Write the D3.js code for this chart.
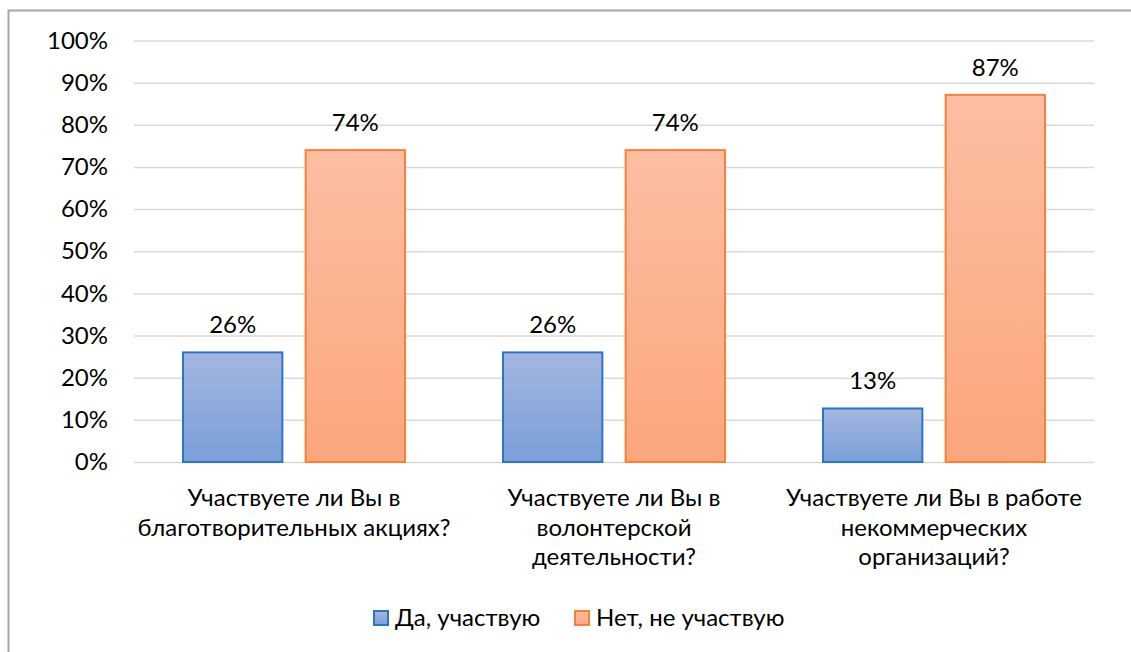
<!DOCTYPE html>
<html>
<head>
<meta charset="utf-8">
<script src="https://cdn.jsdelivr.net/npm/d3@7"></script>
<style>
  body { margin: 0; background: #fff; }
  svg { display: block; font-family: Lato, "Open Sans", sans-serif; }
</style>
</head>
<body>
<svg id="chart" width="1131" height="652"></svg>
<script>
// data
const categories = [
  "Участвуете ли Вы в благотворительных акциях?",
  "Участвуете ли Вы в волонтерской деятельности?",
  "Участвуете ли Вы в работе некоммерческих организаций?"
];
// wrapped lines for the category labels
const categoryLines = [
  ["Участвуете ли Вы в", "благотворительных акциях?"],
  ["Участвуете ли Вы в", "волонтерской", "деятельности?"],
  ["Участвуете ли Вы в работе", "некоммерческих", "организаций?"]
];
const seriesNames = ["Да, участвую", "Нет, не участвую"];
const yesValues = [26, 26, 12.7];
const noValues = [74, 74, 87.1];
const yTicks = [0, 10, 20, 30, 40, 50, 60, 70, 80, 90, 100];

const rows = categories.map((c, i) => ({ cat: c, i: i, values: [yesValues[i], noValues[i]] }));

/* Parameters and scales */
const svg = d3.select("#chart");
const plotLeft = 134, plotRight = 1094, plotTop = 40.5, plotBottom = 462;
const fontSize = 24;

const x0 = d3.scaleBand().domain(categories).range([plotLeft, plotRight]);
const x1 = d3.scaleBand().domain(seriesNames).range([49, 271]).paddingInner(0.19);
const y = d3.scaleLinear().domain([0, 100]).range([plotBottom, plotTop]);

const fills = ["url(#gradBlue)", "url(#gradOrange)"];
const strokes = ["#2e73c6", "#f7813a"];

// gradients
const defs = svg.append("defs");
function gradient(id, top, bottom) {
  const g = defs.append("linearGradient").attr("id", id)
    .attr("x1", 0).attr("y1", 0).attr("x2", 0).attr("y2", 1);
  g.append("stop").attr("offset", "0%").attr("stop-color", top);
  g.append("stop").attr("offset", "100%").attr("stop-color", bottom);
}
gradient("gradBlue", "#a4b6de", "#7a9fd8");
gradient("gradOrange", "#fdbea2", "#fba67d");

// outer border (top and left visible)
svg.append("path")
  .attr("d", "M8.5,652 L8.5,10.5 L1131,10.5")
  .attr("fill", "none").attr("stroke", "#a6a6a6").attr("stroke-width", 2);

/* Axes and grid */
const yAxis = svg.append("g")
  .attr("transform", `translate(${plotLeft},0)`)
  .call(d3.axisLeft(y).tickValues(yTicks).tickFormat(d => d + "%")
    .tickSize(-(plotRight - plotLeft)).tickPadding(26));
yAxis.select(".domain").remove();
yAxis.selectAll(".tick line").attr("stroke", "#d9d9d9").attr("stroke-width", 1.5);
yAxis.selectAll(".tick text").attr("font-size", fontSize).attr("fill", "#000")
  .attr("font-family", "Lato, sans-serif");

/* Bars */
const groups = svg.append("g").selectAll("g").data(rows).join("g")
  .attr("transform", d => `translate(${x0(d.cat)},0)`);

groups.selectAll("rect").data(d => d.values.map((v, k) => ({ v, k })))
  .join("rect")
  .attr("x", d => x1(seriesNames[d.k]))
  .attr("y", d => y(d.v))
  .attr("width", x1.bandwidth())
  .attr("height", d => y(0) - y(d.v))
  .attr("fill", d => fills[d.k])
  .attr("stroke", d => strokes[d.k])
  .attr("stroke-width", 2);

groups.selectAll("text.val").data(d => d.values.map((v, k) => ({ v, k })))
  .join("text").attr("class", "val")
  .attr("x", d => x1(seriesNames[d.k]) + x1.bandwidth() / 2)
  .attr("y", d => y(d.v) - 19)
  .attr("text-anchor", "middle")
  .attr("font-size", fontSize)
  .text(d => Math.round(d.v) + "%");

/* Category labels */
groups.append("text")
  .attr("text-anchor", "middle")
  .attr("font-size", fontSize)
  .selectAll("tspan").data(d => categoryLines[d.i]).join("tspan")
  .attr("x", x0.bandwidth() / 2)
  .attr("y", (d, j) => 506 + j * 29.5)
  .text(d => d);

/* Legend */
const legendX = [373, 574];
const legend = svg.append("g").selectAll("g").data(seriesNames).join("g")
  .attr("transform", (d, i) => `translate(${legendX[i]},610)`);
legend.append("rect")
  .attr("x", 1).attr("y", 1).attr("width", 14).attr("height", 14)
  .attr("fill", (d, i) => fills[i]).attr("stroke", (d, i) => strokes[i]).attr("stroke-width", 2);
legend.append("text")
  .attr("x", 22).attr("y", 16)
  .attr("font-size", fontSize)
  .text(d => d);
</script>
</body>
</html>
